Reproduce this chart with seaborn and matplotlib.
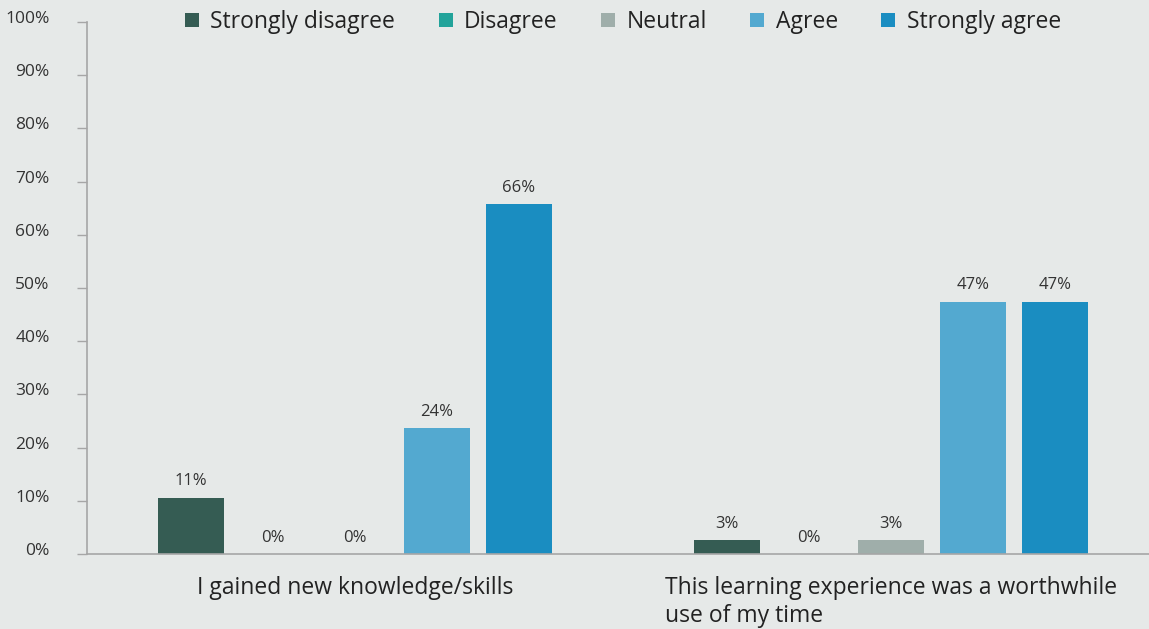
import matplotlib
matplotlib.use("Agg")
import matplotlib.pyplot as plt
import matplotlib.transforms as mtransforms
import seaborn as sns
import pandas as pd

categories = ["I gained new knowledge/skills",
              "This learning experience was a worthwhile\nuse of my time"]
responses = ["Strongly disagree", "Disagree", "Neutral", "Agree", "Strongly agree"]
values_q1 = [10.6, 0, 0, 23.7, 65.8]
values_q2 = [2.6, 0, 2.6, 47.4, 47.4]
colors = ["#355C53", "#22A39A", "#9FAEAA", "#53A9D0", "#1A8DC1"]
yticks = [0, 10, 20, 30, 40, 50, 60, 70, 80, 90, 100]

rows = []
for cat, vals in zip(categories, [values_q1, values_q2]):
    for r, v in zip(responses, vals):
        rows.append({"category": cat, "response": r, "value": v})
df = pd.DataFrame(rows)

sns.set_theme(style="white")
plt.rcParams['font.family'] = ['Open Sans', 'DejaVu Sans']
bg = "#E6E9E8"
fig = plt.figure(figsize=(11.49, 6.29), dpi=100, facecolor=bg)
ax = fig.add_axes([87/1149, 75/629, 1072/1149, 532/629], facecolor=bg)

sns.barplot(data=df, x="category", y="value", hue="response", order=categories,
            hue_order=responses, palette=colors, width=0.765, gap=0.2,
            saturation=1, linewidth=0, ax=ax, legend=True)

for cont in ax.containers:
    ax.bar_label(cont, labels=[f"{v:.0f}%" for v in cont.datavalues],
                 padding=6, fontsize=12, color="#333333")

ax.set_xlim(-0.5, 1.5)
ax.set_ylim(0, 100)
ax.set_yticks(yticks)
ax.set_yticklabels([f"{t}%" for t in yticks], fontsize=12.5, color="#333333")
ax.set_xlabel("")
ax.set_ylabel("")

ax.set_xticks([0, 1])
ax.set_xticklabels(categories, fontsize=16.5, color="#222222")
for lab in ax.get_xticklabels():
    lab.set_multialignment("left")
ax.set_xticks([-0.5, 0.5, 1.5], minor=True)
ax.tick_params(axis="x", which="major", length=0, pad=16)
ax.tick_params(axis="x", which="minor", length=8, color="#A6A6A6", width=1)
ax.tick_params(axis="y", length=7, color="#A6A6A6", width=1, pad=20, left=True)

for side in ["top", "right"]:
    ax.spines[side].set_visible(False)
for side in ["left", "bottom"]:
    ax.spines[side].set_color("#A6A6A6")
    ax.spines[side].set_linewidth(1.2)

offset = mtransforms.ScaledTranslation(0, 5/100, fig.dpi_scale_trans)
for lab in ax.get_yticklabels():
    lab.set_transform(lab.get_transform() + offset)

ax.legend(loc="center", bbox_to_anchor=(0.5, 1.0), ncol=5, frameon=False,
          fontsize=16.5, handlelength=0.6, handleheight=0.6, handletextpad=0.5,
          columnspacing=1.9, labelcolor="#222222")

fig.savefig("out.png", dpi=100, facecolor=bg)
